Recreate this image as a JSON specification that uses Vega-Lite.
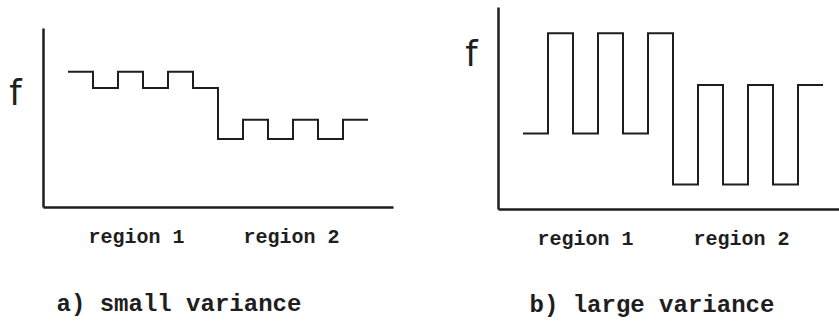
{
  "$schema": "https://vega.github.io/schema/vega-lite/v6.json",
  "padding": {"left": 8, "top": 7, "right": 0, "bottom": 4},
  "background": "white",
  "config": {
    "view": {"stroke": null},
    "axis": {
      "domainColor": "#1e1e1e",
      "domainWidth": 2.5,
      "grid": false,
      "ticks": false,
      "tickSize": 0,
      "labelFont": "Liberation Mono",
      "labelFontSize": 20,
      "labelFontWeight": "bold",
      "labelColor": "#1e1e1e",
      "titleColor": "#1e1e1e",
      "labelFlush": false,
      "labelOverlap": false
    }
  },
  "datasets": {
    "small": [
      {"x": 1, "f": 7.56}, {"x": 2, "f": 6.65}, {"x": 3, "f": 7.56}, {"x": 4, "f": 6.65},
      {"x": 5, "f": 7.56}, {"x": 6, "f": 6.65}, {"x": 7, "f": 3.8}, {"x": 8, "f": 4.88},
      {"x": 9, "f": 3.8}, {"x": 10, "f": 4.88}, {"x": 11, "f": 3.8}, {"x": 12, "f": 4.88},
      {"x": 13, "f": 4.88}
    ],
    "large": [
      {"x": 1, "f": 3.74}, {"x": 2, "f": 8.7}, {"x": 3, "f": 3.74}, {"x": 4, "f": 8.7},
      {"x": 5, "f": 3.74}, {"x": 6, "f": 8.7}, {"x": 7, "f": 1.21}, {"x": 8, "f": 6.14},
      {"x": 9, "f": 1.21}, {"x": 10, "f": 6.14}, {"x": 11, "f": 1.21}, {"x": 12, "f": 6.14},
      {"x": 13, "f": 6.14}
    ]
  },
  "bounds": "flush",
  "spacing": 105,
  "hconcat": [
    {
      "data": {"name": "small"},
      "width": 350,
      "height": 202,
      "mark": {"type": "line", "interpolate": "step-after", "color": "#1e1e1e", "strokeWidth": 2},
      "encoding": {
        "x": {
          "field": "x", "type": "quantitative",
          "scale": {"domain": [0, 14]},
          "axis": {
            "values": [3.72, 9.92],
            "labelExpr": "datum.value < 6 ? 'region 1' : 'region 2'",
            "labelBaseline": "alphabetic",
            "labelPadding": 35,
            "offset": -2,
            "title": "a) small variance",
            "titleFont": "Liberation Mono",
            "titleFontSize": 24,
            "titleFontWeight": "bold",
            "titleAlign": "left",
            "titleBaseline": "alphabetic",
            "titleX": 13,
            "titleY": 103
          }
        },
        "y": {
          "field": "f", "type": "quantitative",
          "scale": {"domain": [0, 10], "range": [200, 21]},
          "axis": {
            "labels": false,
            "title": "f",
            "titleAngle": 0,
            "titleFont": "DejaVu Sans",
            "titleFontSize": 35,
            "titleFontWeight": "normal",
            "titleAlign": "center",
            "titleBaseline": "alphabetic",
            "titleX": -28,
            "titleY": 97
          }
        }
      }
    },
    {
      "data": {"name": "large"},
      "width": 342,
      "height": 202,
      "mark": {"type": "line", "interpolate": "step-after", "color": "#1e1e1e", "strokeWidth": 2},
      "encoding": {
        "x": {
          "field": "x", "type": "quantitative",
          "scale": {"domain": [0, 13.68]},
          "axis": {
            "values": [3.48, 9.72],
            "labelExpr": "datum.value < 6 ? 'region 1' : 'region 2'",
            "labelBaseline": "alphabetic",
            "labelPadding": 35,
            "title": "b) large variance",
            "titleFont": "Liberation Mono",
            "titleFontSize": 24,
            "titleFontWeight": "bold",
            "titleAlign": "left",
            "titleBaseline": "alphabetic",
            "titleX": 31,
            "titleY": 102
          }
        },
        "y": {
          "field": "f", "type": "quantitative",
          "scale": {"domain": [0, 10]},
          "axis": {
            "labels": false,
            "title": "f",
            "titleAngle": 0,
            "titleFont": "DejaVu Sans",
            "titleFontSize": 35,
            "titleFontWeight": "normal",
            "titleAlign": "center",
            "titleBaseline": "alphabetic",
            "titleX": -27,
            "titleY": 58
          }
        }
      }
    }
  ]
}
